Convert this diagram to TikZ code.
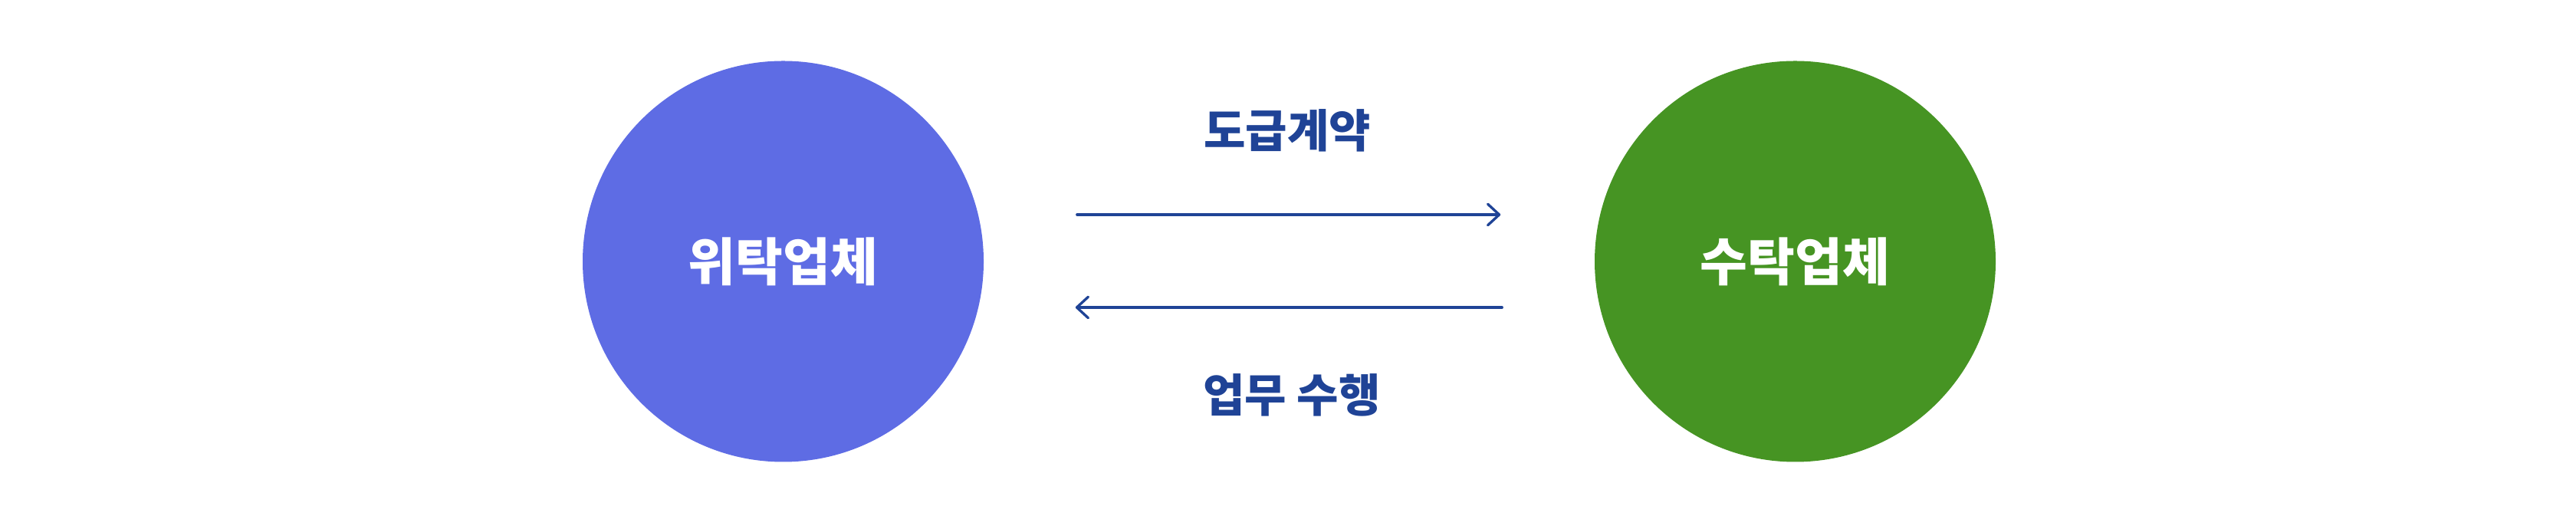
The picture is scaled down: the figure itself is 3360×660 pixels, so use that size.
\documentclass[tikz,border=0pt]{standalone}
\usepackage{fontspec}
\setmainfont{Noto Sans CJK KR}
\usetikzlibrary{arrows.meta}
\definecolor{blueC}{RGB}{94,108,228}
\definecolor{greenC}{RGB}{70,148,35}
\definecolor{navy}{RGB}{31,67,150}
\begin{document}
\begin{tikzpicture}[x=0.25pt,y=-0.25pt,
  party/.style={circle, minimum size=130.75pt, inner sep=0pt, text=white,
    font=\fontsize{16.8pt}{19pt}\selectfont\bfseries},
  lbl/.style={text=navy, inner sep=0pt, font=\fontsize{14.8pt}{17pt}\selectfont\bfseries},
  flow/.style={draw=navy, line width=0.83pt, line cap=round,
    -{Straight Barb[length=3.75pt,width=6.9pt,line width=0.83pt,round]}}]
\useasboundingbox (0,0) rectangle (3360,660);
\node[party, fill=blueC] (L) at (1021.5,341) {위탁업체};
\node[party, fill=greenC] (R) at (2341.5,341) {수탁업체};
\draw[flow, shorten <=30.25pt, shorten >=30.5pt] ([yshift=15.25pt]L.east) -- ([yshift=15.25pt]R.west);
\draw[flow, shorten <=30pt, shorten >=29.75pt] ([yshift=-15pt]R.west) -- ([yshift=-15pt]L.east);
\node[lbl] (c) at (1679,170) {도급계약};
\node[lbl] (w) at (1685,515) {업무 수행};
\end{tikzpicture}
\end{document}
